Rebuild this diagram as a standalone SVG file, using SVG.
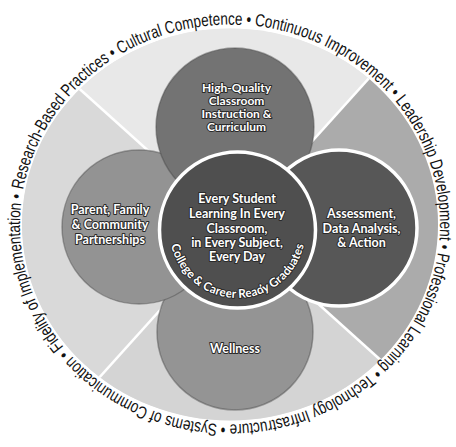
<svg xmlns="http://www.w3.org/2000/svg" width="456" height="447" viewBox="0 0 456 447">
  <defs>
    <clipPath id="disk-clip">
      <ellipse cx="230" cy="224.5" rx="208" ry="196"/>
    </clipPath>
    <!-- baseline of the outer ring of practices, clockwise from the left -->
    <path id="outer-ring" d="M 23.2 189.8 A 211 200 0 0 1 266.5 27.5 A 211 200 0 0 1 436.8 259.2 A 211 200 0 0 1 193.5 421.5 A 211 200 0 0 1 23.2 189.8"/>
    <!-- inner arc along the bottom of the centre circle -->
    <path id="grad-arc" d="M 169.5 230 A 68 68 0 0 0 305.5 230"/>
  </defs>
  <style>
    .ring-text { font-family: "Liberation Sans", Arial, sans-serif; font-size: 17.5px; fill: #111; }
    .lbl { font-family: Lato, "Open Sans", sans-serif; font-weight: 700; font-size: 12.5px; fill: #fff; text-anchor: middle; stroke: #2a2a2a; stroke-width: 2; stroke-linejoin: round; paint-order: stroke; }
    .sm { font-size: 12px; }
    .arc-lbl { font-family: Lato, "Open Sans", sans-serif; font-weight: 700; font-size: 12px; fill: #fff; stroke: #2a2a2a; stroke-width: 2; stroke-linejoin: round; paint-order: stroke; }
    .divider { stroke: #fff; stroke-width: 2.5; fill: none; }
    .rim { stroke: #4a4a4a; stroke-opacity: 0.45; stroke-width: 1.5; }
    .halo { stroke: #fff; stroke-width: 3.5; }
  </style>

  <rect width="456" height="447" fill="#fff"/>

  <!-- outer disk split into four shaded sectors -->
  <g id="backdrop" clip-path="url(#disk-clip)">
    <ellipse cx="230" cy="224.5" rx="208" ry="196" fill="#e2e2e2"/>
    <polygon points="234,228 -63.2,-39.6 501.6,-69.2" fill="#e8e8e8"/>
    <polygon points="234,228 501.6,-69.2 531.2,495.6" fill="#ababab"/>
    <polygon points="234,228 531.2,495.6 -33.6,525.2" fill="#d4d4d4"/>
    <polygon points="234,228 -33.6,525.2 -63.2,-39.6" fill="#d9d9d9"/>
  </g>

  <!-- sector dividers -->
  <g id="connectors" clip-path="url(#disk-clip)">
    <line class="divider" x1="234" y1="228" x2="408" y2="34.8"/>
    <line class="divider" x1="234" y1="228" x2="427.2" y2="402"/>
    <line class="divider" x1="234" y1="228" x2="60" y2="421.2"/>
    <line class="divider" x1="234" y1="228" x2="40.8" y2="54"/>
  </g>

  <!-- ring of practices -->
  <g id="practices">
    <text class="ring-text"><textPath href="#outer-ring" textLength="1282" lengthAdjust="spacingAndGlyphs">Research-Based Practices • Cultural Competence • Continuous Improvement • Leadership Development • Professional Learning • Technology Infrastructure • Systems of Communication • Fidelity of Implementation •</textPath></text>
  </g>

  <g id="wellness">
    <circle class="rim" cx="235" cy="332" r="78" fill="#949494"/>
    <text class="lbl" x="235" y="353">Wellness</text>
  </g>

  <g id="partnerships">
    <circle class="rim" cx="139" cy="227" r="77" fill="#939393"/>
    <text class="lbl" x="110" y="214">Parent, Family</text>
    <text class="lbl" x="110" y="229">&amp; Community</text>
    <text class="lbl" x="110" y="244">Partnerships</text>
  </g>

  <g id="instruction">
    <circle class="rim" cx="235" cy="127" r="79" fill="#737373"/>
    <text class="lbl sm" x="236.5" y="92">High-Quality</text>
    <text class="lbl sm" x="236.5" y="105">Classroom</text>
    <text class="lbl sm" x="236.5" y="118">Instruction &amp;</text>
    <text class="lbl sm" x="236.5" y="131">Curriculum</text>
  </g>

  <g id="assessment">
    <circle class="halo" cx="339" cy="228" r="78" fill="#575757"/>
    <text class="lbl" x="361.5" y="218">Assessment,</text>
    <text class="lbl" x="361.5" y="232.5">Data Analysis,</text>
    <text class="lbl" x="361.5" y="247">&amp; Action</text>
  </g>

  <g id="every-student">
    <circle class="halo" cx="237.5" cy="230" r="78" fill="#4f4f4f"/>
    <text class="lbl" x="237" y="202.5">Every Student</text>
    <text class="lbl" x="237" y="218">Learning In Every</text>
    <text class="lbl" x="237" y="232.5">Classroom,</text>
    <text class="lbl" x="237" y="246.5">in Every Subject,</text>
    <text class="lbl" x="237" y="260.5">Every Day</text>
    <text class="arc-lbl"><textPath href="#grad-arc" startOffset="50%" text-anchor="middle">College &amp; Career Ready Graduates</textPath></text>
  </g>
</svg>
